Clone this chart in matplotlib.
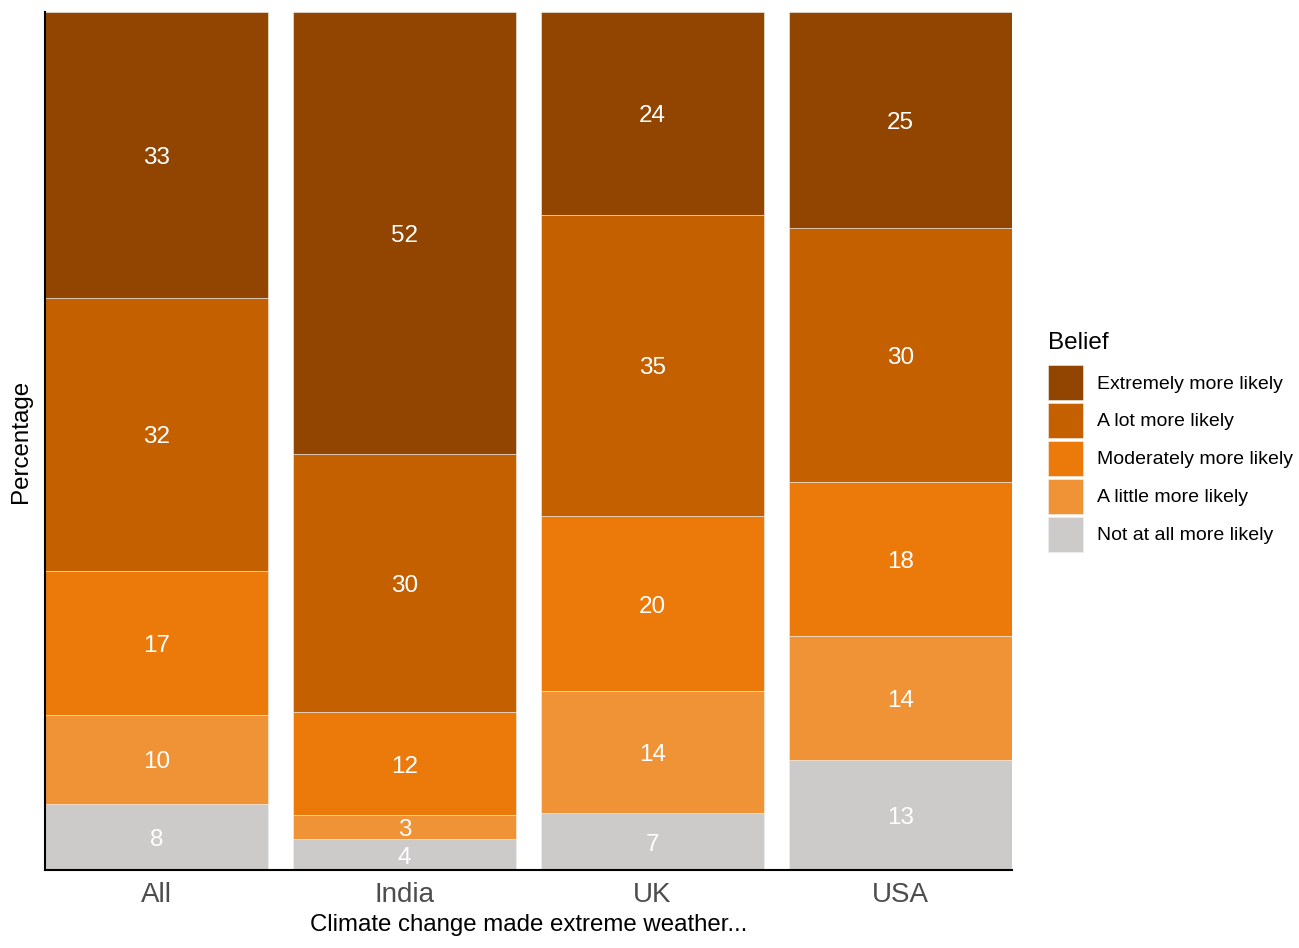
import numpy as np
import matplotlib.pyplot as plt
import matplotlib.transforms as mtransforms
from matplotlib.patches import Patch

plt.rcParams['font.family'] = ['Liberation Sans', 'DejaVu Sans']

# Datos (porcentajes, de abajo hacia arriba en cada barra)
groups = ["All", "India", "UK", "USA"]
beliefs = ["Not at all more likely", "A little more likely", "Moderately more likely",
           "A lot more likely", "Extremely more likely"]
not_at_all = [7.7, 3.6, 6.6, 12.8]
a_little = [10.4, 2.8, 14.2, 14.4]
moderately = [16.8, 12.0, 20.4, 17.9]
a_lot = [31.8, 30.1, 35.1, 29.6]
extremely = [33.3, 51.6, 23.6, 25.1]
colors = ["#CDCACA", "#EF9336", "#EC7A0A", "#C46000", "#914500"]

values = np.array([not_at_all, a_little, moderately, a_lot, extremely])
shares = values / values.sum(axis=0)

fig = plt.figure(figsize=(12.99, 9.48), dpi=100)
ax = fig.add_axes([45 / 1299, 1 - 870 / 948, 967 / 1299, 858 / 948])
label_trans = mtransforms.offset_copy(ax.transData, fig=fig, y=-2.2, units="points")

x = np.arange(1, len(groups) + 1)
bottom = np.zeros(len(groups))
for i, name in enumerate(beliefs):
    ax.bar(x, shares[i], width=0.9, bottom=bottom, color=colors[i],
           edgecolor="#F2F2F2", linewidth=0.4, label=name)
    for xi, b, h, v in zip(x, bottom, shares[i], values[i]):
        ax.text(xi, b + h / 2, f"{v:.0f}", ha="center", va="center",
                color="white", fontsize=17.5, transform=label_trans)
    bottom += shares[i]

ax.set_xlim(0.55, 4.45)
ax.set_ylim(0, 1)
ax.set_xticks(x)
ax.set_xticklabels(groups, fontsize=20, color="#4D4D4D")
ax.set_yticks([])
ax.tick_params(axis="x", length=0, pad=9)
for side in ["top", "right"]:
    ax.spines[side].set_visible(False)
ax.spines["left"].set_linewidth(1.5)
ax.spines["bottom"].set_linewidth(1.5)
ax.set_xlabel("Climate change made extreme weather...", fontsize=17.3, labelpad=4)
ax.set_ylabel("Percentage", fontsize=17.4, labelpad=9)

handles = [Patch(facecolor=colors[i], edgecolor="#F2F2F2", linewidth=0.4, label=beliefs[i])
           for i in range(len(beliefs) - 1, -1, -1)]
leg = fig.legend(handles=handles, title="Belief", loc="upper left",
                 bbox_to_anchor=(1048 / 1299, 1 - 332 / 948), frameon=False,
                 fontsize=14, title_fontsize=17.5, handlelength=1.8,
                 handleheight=2.39, labelspacing=0.15, handletextpad=0.72,
                 borderaxespad=0, borderpad=0)
leg._legend_box.align = "left"
leg._legend_box.sep = 8

fig.savefig("out.png", dpi=100)
